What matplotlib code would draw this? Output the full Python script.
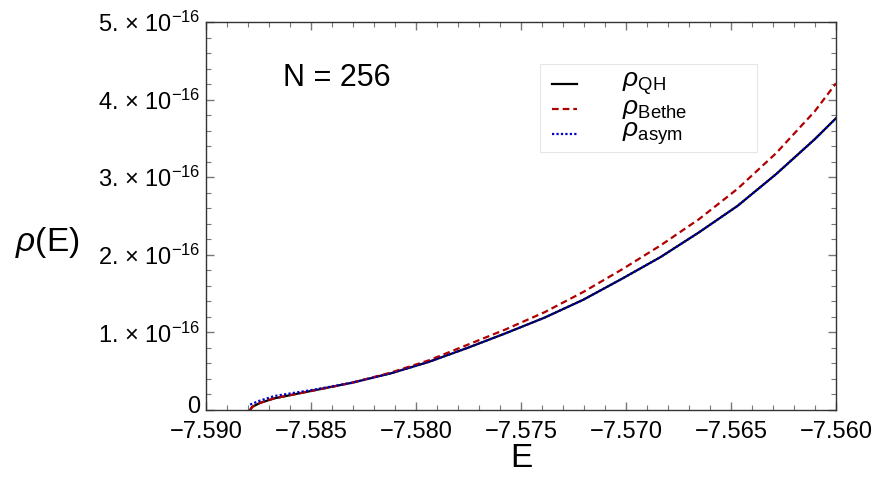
import matplotlib
matplotlib.use("Agg")
import matplotlib.pyplot as plt
import matplotlib.transforms as mtransforms
from matplotlib.ticker import MultipleLocator, FixedLocator, FuncFormatter
from matplotlib.patches import Rectangle
from matplotlib.lines import Line2D

plt.rcParams['font.family'] = ['Liberation Sans', 'DejaVu Sans']
plt.rcParams['mathtext.fontset'] = 'custom'
plt.rcParams['mathtext.rm'] = 'Liberation Sans'
plt.rcParams['mathtext.it'] = 'Liberation Sans:italic'
plt.rcParams['mathtext.bf'] = 'Liberation Sans:bold'

# Data (rho in units of 1e-16)
E = [-7.58790, -7.58780, -7.58744, -7.58675, -7.58491, -7.58307, -7.58123,
     -7.57939, -7.57755, -7.57572, -7.57388, -7.57204, -7.57020, -7.56836,
     -7.56652, -7.56469, -7.56285, -7.56101, -7.56000]
rho_qh = [0.00, 0.04, 0.09, 0.15, 0.25, 0.35, 0.47,
          0.62, 0.80, 0.99, 1.19, 1.42, 1.69, 1.97,
          2.29, 2.63, 3.04, 3.49, 3.76]
rho_bethe = [0.00, 0.04, 0.09, 0.15, 0.25, 0.35, 0.48,
             0.64, 0.84, 1.04, 1.26, 1.52, 1.81, 2.12,
             2.46, 2.85, 3.31, 3.85, 4.21]
rho_asym = [0.07, 0.08, 0.12, 0.18, 0.26, 0.35, 0.47,
            0.62, 0.80, 0.99, 1.19, 1.42, 1.69, 1.97,
            2.29, 2.63, 3.04, 3.49, 3.76]
scale = 1e-16

x_ticks = [-7.590, -7.585, -7.580, -7.575, -7.570, -7.565, -7.560]
y_ticks = [0, 1, 2, 3, 4, 5]

series = [
    (rho_qh, r'$\rho_{\mathrm{QH}}$', dict(color='black', lw=1.6, ls='-')),
    (rho_bethe, r'$\rho_{\mathrm{Bethe}}$', dict(color='#b00000', lw=1.6, ls=(0, (3, 1.8)))),
    (rho_asym, r'$\rho_{\mathrm{asym}}$', dict(color='#0000c8', lw=1.6, ls=(0, (1, 1)))),
]

fig = plt.figure(figsize=(8.8, 4.83), dpi=100)
ax = fig.add_axes([206/880, 73/483, 630/880, 388/483])

for vals, lab, st in series:
    ax.plot(E, [v*scale for v in vals], **st)

ax.set_xlim(-7.590, -7.560)
ax.set_ylim(0, 5e-16)

ax.xaxis.set_major_locator(FixedLocator(x_ticks))
ax.xaxis.set_minor_locator(MultipleLocator(0.001))
ax.yaxis.set_major_locator(FixedLocator([t*scale for t in y_ticks]))
ax.yaxis.set_minor_locator(MultipleLocator(0.2e-16))

def xfmt(v, pos):
    return ('\u2212' if v < 0 else '') + f'{abs(v):.3f}'

def yfmt(v, pos):
    n = round(v / scale)
    if n == 0:
        return '0'
    return rf'{n}. $\times$ 10$^{{-16}}$'

ax.xaxis.set_major_formatter(FuncFormatter(xfmt))
ax.yaxis.set_major_formatter(FuncFormatter(yfmt))

ax.tick_params(which='both', direction='in', top=True, right=True, color='#777777')
ax.tick_params(which='major', length=6, width=1.0)
ax.tick_params(which='minor', length=3.5, width=0.8)
ax.tick_params(axis='x', labelsize=17, pad=8)
ax.tick_params(axis='y', labelsize=17, pad=4)
for s in ax.spines.values():
    s.set_color('#333333')
    s.set_linewidth(1.0)

fig.canvas.draw()
zero_lbl = ax.yaxis.get_major_ticks()[0].label1
zero_lbl.set_transform(zero_lbl.get_transform() +
                       mtransforms.ScaledTranslation(0, 4/72, fig.dpi_scale_trans))

ax.set_xlabel('E', fontsize=24, labelpad=0)
fig.text(15/880, 1 - 242/483, r'$\rho$(E)', fontsize=24, ha='left', va='center')

ax.text(0.123, 0.855, 'N = 256', transform=ax.transAxes, fontsize=22, ha='left', va='center')

# legend box drawn in axes coordinates
ax.add_patch(Rectangle((0.530, 0.665), 0.345, 0.227, transform=ax.transAxes,
                       facecolor='white', edgecolor='#e6e6e6', lw=0.8, zorder=5))
rows_y = [0.840, 0.776, 0.711]
for (vals, lab, st), yy in zip(series, rows_y):
    ax.add_line(Line2D([0.549, 0.589], [yy, yy], transform=ax.transAxes, zorder=6, **st))
    ax.text(0.660, yy, lab, transform=ax.transAxes, fontsize=19, ha='left', va='center', zorder=6)

fig.savefig('out.png', dpi=100)
